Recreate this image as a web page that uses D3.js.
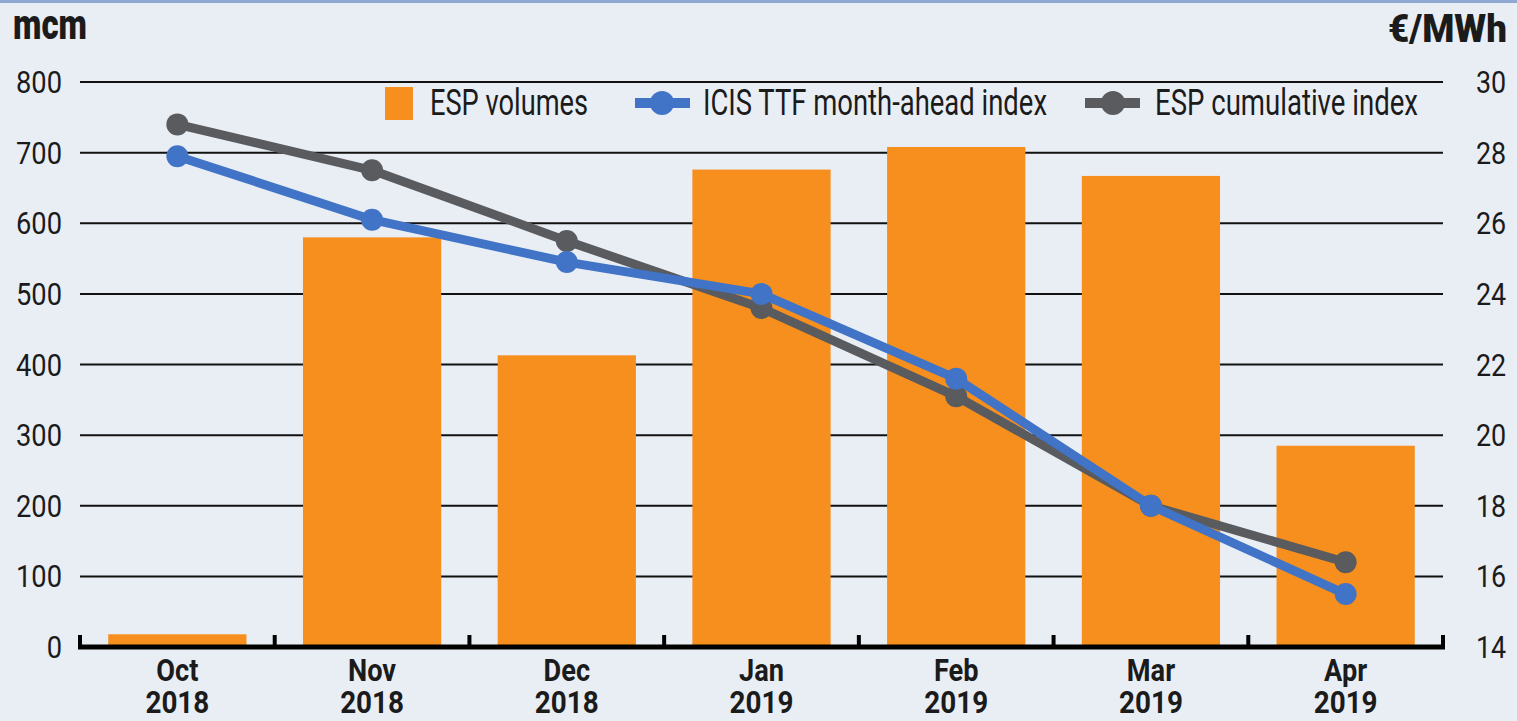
<!DOCTYPE html>
<html><head><meta charset="utf-8">
<script src="https://cdn.jsdelivr.net/npm/d3@7/dist/d3.min.js"></script>
<style>
body{margin:0;background:#e9eef5;}
svg{display:block;}
text{font-family:Roboto,"Liberation Sans",sans-serif;fill:#1b1b1b;}
</style></head>
<body><svg id="c" width="1517" height="721"></svg>
<script>
const categories = ["Oct|2018","Nov|2018","Dec|2018","Jan|2019","Feb|2019","Mar|2019","Apr|2019"];
const espVolumes = [18, 580, 413, 676, 708, 667, 285];
const ttfIndex = [27.9, 26.1, 24.9, 24.0, 21.6, 18.0, 15.5];
const espCumulative = [28.8, 27.5, 25.5, 23.6, 21.1, 18.0, 16.4];
const leftTicks = [0,100,200,300,400,500,600,700,800];
const rightTicks = [14,16,18,20,22,24,26,28,30];
const seriesNames = ["ESP volumes","ICIS TTF month-ahead index","ESP cumulative index"];

const svg = d3.select("#c");
const W=1517,H=721;
svg.append("rect").attr("width",W).attr("height",H).attr("fill","#e9eef5");
svg.append("rect").attr("width",W).attr("height",3).attr("fill","#8fa9d2");

const x0=80,x1=1443,yTop=82,yBot=647;
const x = d3.scaleBand().domain(categories).range([x0,x1]).paddingInner(0.29).paddingOuter(0.145);
const xb = d3.scaleBand().domain(categories).range([x0,x1]);
const yL = d3.scaleLinear().domain([0,800]).range([yBot,yTop]);
const yR = d3.scaleLinear().domain([14,30]).range([yBot,yTop]);

function txt(g, xx, yy, s, size, weight, anchor, sx){
  return g.append("text").attr("transform",`translate(${xx},${yy}) scale(${sx},1)`)
    .attr("text-anchor",anchor).style("font-size",size+"px").style("font-weight",weight).text(s);
}

// gridlines
svg.append("g").selectAll("line").data(leftTicks.filter(d=>d>0)).join("line")
  .attr("x1",x0).attr("x2",x1).attr("y1",d=>yL(d)).attr("y2",d=>yL(d))
  .attr("stroke","#111").attr("stroke-width",2);

// bars
svg.append("g").selectAll("rect").data(espVolumes).join("rect")
  .attr("x",(d,i)=>x(categories[i])).attr("width",x.bandwidth())
  .attr("y",d=>yL(d)).attr("height",d=>yBot-yL(d))
  .attr("fill","#f78f1e");

// x axis
svg.append("line").attr("x1",x0-2).attr("x2",x1+2).attr("y1",yBot).attr("y2",yBot)
  .attr("stroke","#000").attr("stroke-width",5);
const bounds = categories.map(c=>xb(c)).concat([x1]);
svg.append("g").selectAll("line").data(bounds).join("line")
  .attr("x1",d=>d).attr("x2",d=>d).attr("y1",yBot).attr("y2",yBot-12)
  .attr("stroke","#000").attr("stroke-width",4);

// x labels
const gx = svg.append("g");
categories.forEach(c=>{
  const cx = xb(c)+xb.bandwidth()/2;
  const [m,yr] = c.split("|");
  txt(gx, cx, 681, m, 32, "bold", "middle", 0.85);
  txt(gx, cx, 713, yr, 32, "bold", "middle", 0.87);
});

// y axis labels
const gy = svg.append("g");
leftTicks.forEach(d=>txt(gy, 62, yL(d)+11, String(d), 31, "normal", "end", 0.88));
rightTicks.forEach(d=>txt(gy, 1476, yR(d)+11, String(d), 32, "normal", "start", 0.84));

svg.append("text").attr("x",13).attr("y",39).attr("textLength",74).attr("lengthAdjust","spacingAndGlyphs")
  .style("font-size","42px").style("font-weight","900").text("mcm");
svg.append("text").attr("x",1388).attr("y",42).attr("textLength",119).attr("lengthAdjust","spacingAndGlyphs")
  .style("font-size","39px").style("font-weight","900").text("€/MWh");

// lines
const cxOf = i => xb(categories[i])+xb.bandwidth()/2;
const line = d3.line().x((d,i)=>cxOf(i)).y(d=>yR(d));
function drawSeries(data,color){
  svg.append("path").datum(data).attr("d",line).attr("fill","none")
    .attr("stroke",color).attr("stroke-width",9).attr("stroke-linejoin","round");
  svg.append("g").selectAll("circle").data(data).join("circle")
    .attr("cx",(d,i)=>cxOf(i)).attr("cy",d=>yR(d)).attr("r",11).attr("fill",color);
}
drawSeries(espCumulative,"#595b5e");
drawSeries(ttfIndex,"#4174c6");

// legend
const lg = svg.append("g");
lg.append("rect").attr("x",385).attr("y",87).attr("width",28).attr("height",33).attr("fill","#f78f1e");
lg.append("text").attr("x",430).attr("y",115).attr("textLength",158).attr("lengthAdjust","spacingAndGlyphs")
  .style("font-size","36px").text(seriesNames[0]);
lg.append("line").attr("x1",635).attr("x2",690).attr("y1",103).attr("y2",103).attr("stroke","#4174c6").attr("stroke-width",10);
lg.append("circle").attr("cx",662).attr("cy",103).attr("r",12).attr("fill","#4174c6");
lg.append("text").attr("x",703).attr("y",115).attr("textLength",344).attr("lengthAdjust","spacingAndGlyphs")
  .style("font-size","36px").text(seriesNames[1]);
lg.append("line").attr("x1",1085).attr("x2",1140).attr("y1",103).attr("y2",103).attr("stroke","#595b5e").attr("stroke-width",10);
lg.append("circle").attr("cx",1113).attr("cy",103).attr("r",12).attr("fill","#595b5e");
lg.append("text").attr("x",1155).attr("y",115).attr("textLength",263).attr("lengthAdjust","spacingAndGlyphs")
  .style("font-size","36px").text(seriesNames[2]);
</script></body></html>
